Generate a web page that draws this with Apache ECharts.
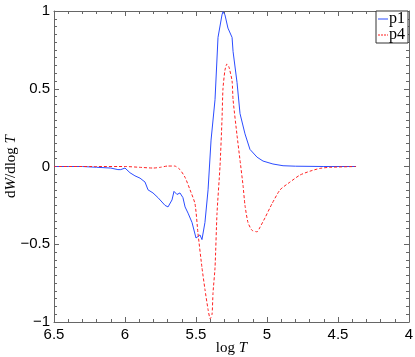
<!DOCTYPE html>
<html>
<head>
<meta charset="utf-8">
<script src="https://cdn.jsdelivr.net/npm/echarts@6/dist/echarts.min.js"></script>
<style>
  html, body { margin: 0; padding: 0; background: #fff; }
  #chart { width: 415px; height: 357px; }
</style>
</head>
<body>
<div id="chart"></div>
<script>
// p1 (blue, solid)
var p1X = [6.5, 6.4, 6.3, 6.2, 6.1, 6.05, 6.03, 6.0, 5.965, 5.93, 5.894, 5.859, 5.838, 5.803, 5.768,
  5.718, 5.697, 5.669, 5.655, 5.634, 5.613, 5.592, 5.577, 5.556, 5.528, 5.5, 5.486, 5.472, 5.458,
  5.451, 5.437, 5.415, 5.394, 5.366, 5.345, 5.331, 5.317, 5.31, 5.296, 5.275, 5.246, 5.239, 5.211,
  5.19, 5.155, 5.12, 5.07, 5.028, 4.958, 4.887, 4.8, 4.6, 4.373];
var p1Y = [0, 0, 0, -0.005, -0.01, -0.02, -0.02, -0.01, -0.04, -0.06, -0.075, -0.1, -0.15, -0.17, -0.2,
  -0.25, -0.26, -0.215, -0.16, -0.18, -0.17, -0.2, -0.26, -0.3, -0.36, -0.46, -0.45, -0.44, -0.47,
  -0.47, -0.36, -0.15, 0.17, 0.43, 0.83, 0.84, 0.975, 0.995, 0.975, 0.89, 0.83, 0.74, 0.54,
  0.34, 0.21, 0.11, 0.06, 0.035, 0.016, 0.005, 0.002, 0, 0];

// p4 (red, dotted)
var p4X = [6.5, 6.2, 6.0, 5.9, 5.8, 5.75, 5.7, 5.65, 5.613, 5.577, 5.542, 5.507, 5.486, 5.458, 5.437,
  5.415, 5.4, 5.387, 5.38, 5.366, 5.352, 5.331, 5.317, 5.31, 5.296, 5.282, 5.268, 5.246, 5.239,
  5.211, 5.19, 5.169, 5.155, 5.134, 5.106, 5.07, 5.049, 5.014, 4.965, 4.908, 4.838, 4.768, 4.697,
  4.627, 4.556, 4.373];
var p4Y = [0, 0, 0, -0.005, -0.01, -0.005, 0.003, 0.003, -0.02, -0.07, -0.15, -0.24, -0.43, -0.65, -0.79,
  -0.92, -0.98, -0.95, -0.81, -0.65, -0.3, 0, 0.3, 0.5, 0.62, 0.66, 0.64, 0.55, 0.43,
  0.2, 0.04, -0.12, -0.25, -0.36, -0.41, -0.42, -0.39, -0.33, -0.24, -0.15, -0.1, -0.055, -0.03,
  -0.012, -0.005, 0];

var xTicks = [6.5, 6, 5.5, 5, 4.5, 4];
var yTicks = [-1, -0.5, 0, 0.5, 1];

var blue = "#2b4cff";
var red = "#ff2020";

function pairs(xs, ys) {
  var out = [];
  for (var i = 0; i < xs.length; i++) {
    out.push([xs[i], ys[i]]);
  }
  return out;
}

var chart = echarts.init(document.getElementById("chart"));
var tickStyle = { color: "#666", width: 1 };
var serif = "Liberation Serif";
var nameRich = {
  r: { fontFamily: serif, fontSize: 15, color: "#000" },
  i: { fontFamily: serif, fontSize: 15, fontStyle: "italic", color: "#000" }
};

function xAxisOf(pos, showLabel) {
  return {
    type: "value",
    min: xTicks[xTicks.length - 1],
    max: xTicks[0],
    interval: 0.5,
    inverse: true,
    position: pos,
    axisLine: { onZero: false, lineStyle: { color: "#666" } },
    axisTick: { inside: true, length: 5, lineStyle: tickStyle },
    minorTick: { show: true, splitNumber: 5, length: 3, lineStyle: tickStyle },
    splitLine: { show: false },
    axisLabel: { show: showLabel, color: "#000", fontFamily: "Liberation Sans", fontSize: 15, margin: 5 }
  };
}

function yAxisOf(pos, showLabel) {
  return {
    type: "value",
    min: yTicks[0],
    max: yTicks[yTicks.length - 1],
    interval: 0.5,
    position: pos,
    axisLine: { onZero: false, lineStyle: { color: "#666" } },
    axisTick: { inside: true, length: 5, lineStyle: tickStyle },
    minorTick: { show: true, splitNumber: 10, length: 3, lineStyle: tickStyle },
    splitLine: { show: false },
    axisLabel: {
      show: showLabel,
      color: "#000",
      fontFamily: "Liberation Sans",
      fontSize: 15,
      margin: 4,
      formatter: function (v) { return String(v).replace("-", "\u2212"); }
    }
  };
}

var xBottom = xAxisOf("bottom", true);
xBottom.name = "{r|log }{i|T}";
xBottom.nameLocation = "middle";
xBottom.nameGap = 19;
xBottom.nameMoveOverlap = false;
xBottom.nameTextStyle = { rich: nameRich };

var yLeft = yAxisOf("left", true);
yLeft.name = "{r|d}{i|W}{r|/dlog }{i|T}";
yLeft.nameLocation = "middle";
yLeft.nameGap = 35;
yLeft.nameMoveOverlap = false;
yLeft.nameTextStyle = { rich: nameRich };

var option = {
  animation: false,
  grid: { left: 54, right: 6, top: 11, bottom: 35, outerBoundsMode: "none", containLabel: false },
  legend: {
    right: 7,
    top: 11,
    orient: "vertical",
    itemWidth: 10,
    itemHeight: 1.5,
    itemGap: 0,
    padding: [0, 3, 0, 2],
    borderColor: "#333",
    borderWidth: 1,
    backgroundColor: "#fff",
    textStyle: { fontFamily: serif, fontSize: 16, color: "#000", padding: [0, 0, 0, -4] },
    data: [
      { name: "p1", icon: "path://M0,0h10v1h-10z", itemStyle: { color: blue } },
      { name: "p4", icon: "path://M0,0h2v1h-2z M3,0h2v1h-2z M6,0h2v1h-2z M9,0h1v1h-1z", itemStyle: { color: red } }
    ]
  },
  xAxis: [xBottom, xAxisOf("top", false)],
  yAxis: [yLeft, yAxisOf("right", false)],
  series: [
    {
      name: "p1",
      type: "line",
      xAxisIndex: 0,
      yAxisIndex: 0,
      showSymbol: false,
      symbol: "none",
      lineStyle: { color: blue, width: 1 },
      itemStyle: { color: blue },
      data: pairs(p1X, p1Y)
    },
    {
      name: "p4",
      type: "line",
      xAxisIndex: 0,
      yAxisIndex: 0,
      showSymbol: false,
      symbol: "none",
      smooth: 0.2,
      lineStyle: { color: red, width: 1, type: [3, 2] },
      itemStyle: { color: red },
      data: pairs(p4X, p4Y)
    }
  ]
};

chart.setOption(option);
window.addEventListener("resize", function () {
  chart.resize();
});
</script>
</body>
</html>
